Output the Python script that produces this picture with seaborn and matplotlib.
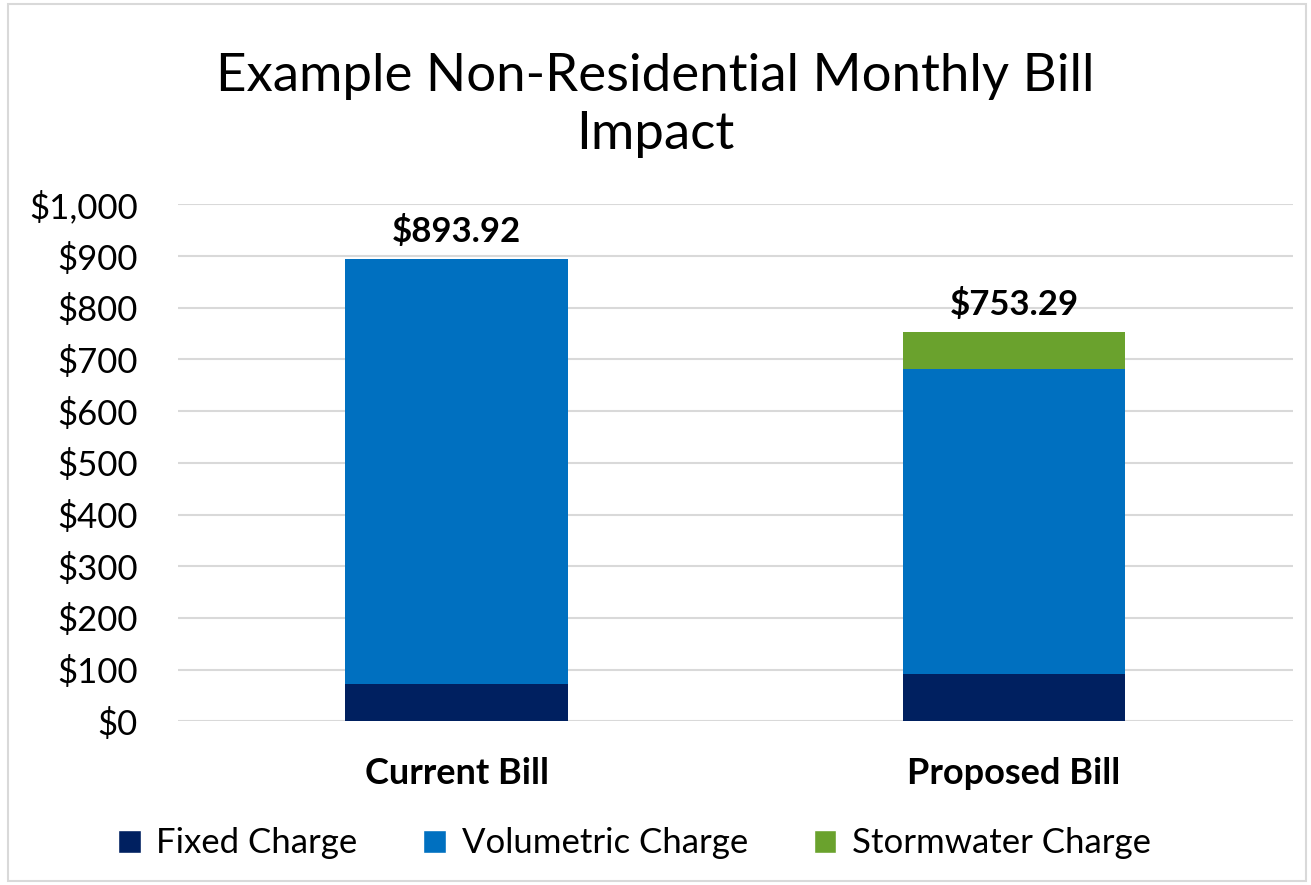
import pandas as pd
import matplotlib.pyplot as plt
import seaborn as sns
from matplotlib.patches import Patch, Rectangle
from matplotlib.ticker import FuncFormatter

bills = ['Current Bill', 'Proposed Bill']
fixed = [73.0, 91.0]
volumetric = [820.92, 590.0]
stormwater = [0.0, 72.29]
totals = ['$893.92', '$753.29']
series = ['Fixed Charge', 'Volumetric Charge', 'Stormwater Charge']
colors = ['#002060', '#0070C0', '#6AA22D']

df = pd.DataFrame({'Bill': bills, 'Fixed Charge': fixed,
                   'Volumetric Charge': volumetric, 'Stormwater Charge': stormwater})

sns.set_style('white')
plt.rcParams['font.family'] = ['Lato', 'DejaVu Sans']
plt.rcParams['text.color'] = 'black'
plt.rcParams['xtick.color'] = 'black'
plt.rcParams['ytick.color'] = 'black'

fig = plt.figure(figsize=(13.11, 8.85), dpi=100)
ax = fig.add_axes([0.136, 0.185, 0.85, 0.584])

bottom = pd.Series([0.0] * len(df))
for name, col in zip(series, colors):
    sns.barplot(data=df, x='Bill', y=name, bottom=bottom, color=col, width=0.4,
                saturation=1, ax=ax, zorder=3, linewidth=0)
    bottom = bottom + df[name]

for i, lab in enumerate(totals):
    ax.text(i, bottom[i] + 22, lab, ha='center', va='bottom', fontsize=25, fontweight='bold')

ax.set_ylim(0, 1000)
ax.set_yticks(range(0, 1001, 100))
ax.yaxis.set_major_formatter(FuncFormatter(lambda v, p: f'${v:,.0f}'))
ax.grid(axis='y', color='#D9D9D9', linewidth=1.5, zorder=0)
ax.set_xlabel('')
ax.set_ylabel('')
for s in ax.spines.values():
    s.set_visible(False)
ax.tick_params(axis='y', labelsize=25, length=0, pad=29)
ax.tick_params(axis='x', labelsize=26, length=0, pad=26)
for t in ax.get_xticklabels():
    t.set_fontweight('bold')

fig.suptitle('Example Non-Residential Monthly Bill\nImpact', fontsize=38, y=0.94,
             linespacing=1.28)

handles = [Patch(facecolor=c, label=n) for n, c in zip(series, colors)]
fig.legend(handles=handles, loc='center', bbox_to_anchor=(0.484, 0.047), ncol=3,
           frameon=False, fontsize=25, handlelength=0.65, handleheight=0.65,
           columnspacing=1.9, handletextpad=0.45)

fig.patches.append(Rectangle((0.006, 0.004), 0.99, 0.992, transform=fig.transFigure,
                             fill=False, edgecolor='#D9D9D9', linewidth=1.5))

fig.savefig('out.png', dpi=100)
